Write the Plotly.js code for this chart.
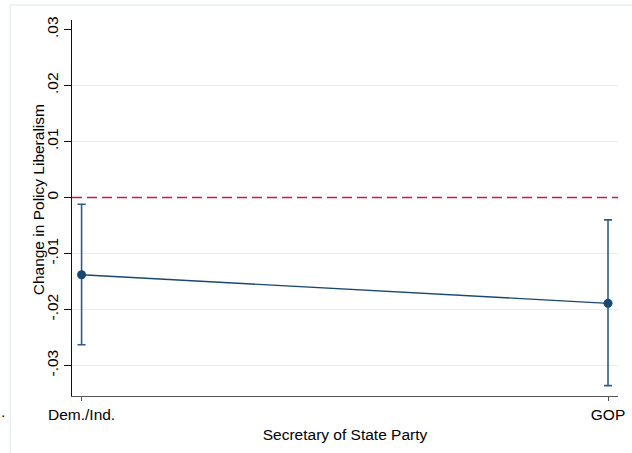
<!DOCTYPE html>
<html>
<head>
<meta charset="utf-8">
<script src="https://cdn.plot.ly/plotly-3.0.1.min.js"></script>
<style>
  html, body { margin: 0; padding: 0; background: #fff; }
  #chart { width: 632px; height: 453px; }
</style>
</head>
<body>
<div id="chart"></div>
<script>
// Estimated change in policy liberalism by Secretary of State party, with 95% CIs
const parties = ['Dem./Ind.', 'GOP'];
const estimate = [-0.0138, -0.0189];
const ciUpper = [-0.0012, -0.0040];
const ciLower = [-0.0263, -0.0336];

// Y axis ticks and reference lines
const yTickVals = [0.03, 0.02, 0.01, 0, -0.01, -0.02, -0.03];
const yTickText = ['.03', '.02', '.01', '0', '-.01', '-.02', '-.03'];
const gridVals = [0.02, 0.01, -0.01, -0.02, -0.03];
const referenceValue = 0;

const xIdx = parties.map((_, i) => i);
const navy = '#1a476f';
const font = { family: '"Liberation Sans", Arial, Helvetica, sans-serif', size: 15.5, color: '#000' };

const trace = {
  type: 'scatter',
  mode: 'lines+markers',
  x: xIdx,
  y: estimate,
  line: { color: navy, width: 1.3 },
  marker: { color: navy, size: 9 },
  error_y: {
    type: 'data',
    symmetric: false,
    array: estimate.map((v, i) => ciUpper[i] - v),
    arrayminus: estimate.map((v, i) => v - ciLower[i]),
    color: '#2f5d87',
    thickness: 1.6,
    width: 4
  },
  hoverinfo: 'skip',
  showlegend: false
};

const shapes = [];
gridVals.forEach(v => shapes.push({
  type: 'line', xref: 'paper', yref: 'y', x0: 0, x1: 1, y0: v, y1: v,
  line: { color: '#e7eff2', width: 1 }, layer: 'below'
}));
shapes.push({
  type: 'line', xref: 'paper', yref: 'y', x0: 0, x1: 1, y0: referenceValue, y1: referenceValue,
  line: { color: '#e0103e', width: 1.6, dash: '10px,5px' }, layer: 'below'
});
// light outer frame of the graph region
shapes.push({
  type: 'line', xref: 'paper', yref: 'paper', x0: -0.113, x1: 1.03, y0: 1.04, y1: 1.04,
  line: { color: '#e9f0f3', width: 1.5 }
});
shapes.push({
  type: 'line', xref: 'paper', yref: 'paper', x0: -0.113, x1: -0.113, y0: 1.04, y1: -0.16,
  line: { color: '#e9f0f3', width: 1.5 }
});

const layout = {
  width: 632,
  height: 453,
  margin: { l: 71.7, r: 14, t: 20, b: 57, pad: 0 },
  paper_bgcolor: '#ffffff',
  plot_bgcolor: '#ffffff',
  font: font,
  xaxis: {
    range: [-0.0182, 1.019],
    tickvals: xIdx,
    ticktext: parties,
    showgrid: false,
    zeroline: false,
    showline: true,
    linecolor: '#555',
    linewidth: 1,
    ticks: 'outside',
    ticklen: 4,
    tickcolor: '#555',
    tickfont: font,
    title: { text: 'Secretary of State Party', font: font, standoff: 7 }
  },
  yaxis: {
    range: [-0.03545, 0.0317],
    tickvals: yTickVals,
    ticktext: yTickText,
    tickangle: -90,
    showgrid: false,
    zeroline: false,
    showline: true,
    linecolor: '#111',
    linewidth: 1,
    ticks: 'outside',
    ticklen: 7,
    tickcolor: '#111',
    tickfont: font
  },
  shapes: shapes,
  annotations: [
    {
      xref: 'paper', yref: 'paper', x: -0.0608, y: 0.5226,
      xanchor: 'center', yanchor: 'middle', textangle: -90,
      text: 'Change in Policy Liberalism', showarrow: false, font: font
    },
    {
      xref: 'paper', yref: 'paper', x: -0.1265, y: -0.042,
      xanchor: 'center', yanchor: 'middle',
      text: '.', showarrow: false, font: font
    }
  ]
};

Plotly.newPlot('chart', [trace], layout, { displayModeBar: false, staticPlot: true });
</script>
</body>
</html>
